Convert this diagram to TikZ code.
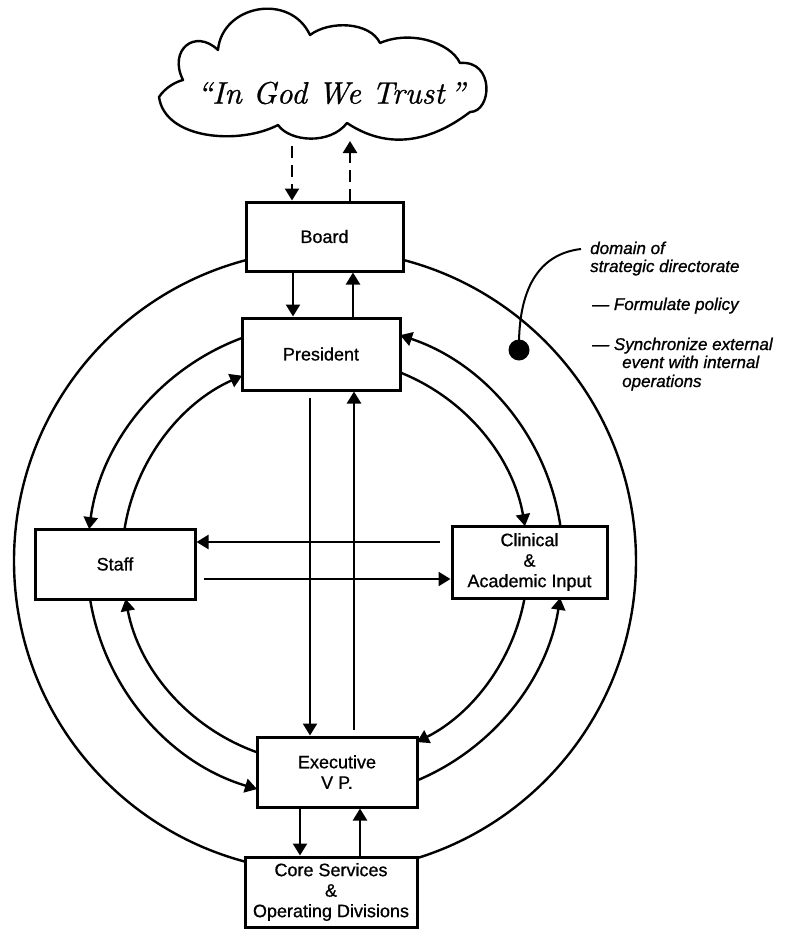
\documentclass[tikz,border=0pt]{standalone}
\usepackage{fontspec}
\newfontfamily\boxfont[FakeBold=0.8]{Liberation Sans}
\newfontfamily\notefont[FakeBold=1]{Liberation Sans}
\newfontfamily\mottofont[FakeBold=0.8]{lmroman10-italic.otf}
\usetikzlibrary{arrows.meta,calc}
\begin{document}
\begin{tikzpicture}[x=1pt,y=-1pt,
  box/.style={draw, line width=3pt, fill=white, align=center,
    font=\boxfont\fontsize{18}{20.5}\selectfont, inner sep=0pt},
  ring/.style={line width=2.4pt},
  arr/.style={line width=2.4pt, -{Triangle[length=12pt,width=14pt]}},
  dasharr/.style={arr, dash pattern=on 12pt off 7pt},
  note/.style={font=\notefont\itshape\fontsize{17}{18}\selectfont,
    anchor=base west, inner sep=0pt}]

\useasboundingbox (0,0) rectangle (801,929);

% centre of the concentric rings
\coordinate (ctr) at (325,561);

% outer ring of the strategic directorate
\draw[ring] (ctr) circle[radius=311];

% cloud
\draw[line width=2.4pt, line join=round]
  (159,97) .. controls (165,88) and (175,82) .. (183,80)
  .. controls (168,50) and (195,28) .. (218,50)
  .. controls (222,5) and (290,-8) .. (310,35)
  .. controls (330,20) and (370,22) .. (380,43)
  .. controls (410,30) and (450,42) .. (460,63)
  .. controls (495,60) and (492,112) .. (470,112)
  .. controls (440,135) and (395,155) .. (347,123)
  .. controls (330,145) and (290,142) .. (278,125)
  .. controls (240,145) and (165,140) .. (159,97) -- cycle;
\node[font=\mottofont\fontsize{31}{36}\selectfont, inner sep=0pt] (motto) at (331,93) {“In God We Trust\,”};
\coordinate (cq1) at (292,146);
\coordinate (cq2) at (350,141);

% boxes
\node[box, minimum width=157pt, minimum height=69pt] (board) at (324.5,236.5) {Board};
\node[box, minimum width=158pt, minimum height=72pt] (pres)  at (321,354) {President};
\node[box, minimum width=160pt, minimum height=70pt] (staff) at (115,564) {Staff};
\node[box, minimum width=155pt, minimum height=72pt] (clin)  at (529.5,562) {Clinical\\\&\\Academic Input};
\node[box, minimum width=160pt, minimum height=70pt] (exec)  at (337,772) {Executive\\V P.};
\node[box, minimum width=172pt, minimum height=70pt] (core)  at (331,892) {Core Services\\\&\\Operating Divisions};

% cloud <-> board
\draw[dasharr] (cq1) -- (cq1 |- board.north);
\draw[dasharr] (cq2 |- board.north) -- (cq2);

% vertical links
\draw[arr] (293,0 |- board.south) -- (293,0 |- pres.north);
\draw[arr] (353,0 |- pres.north) -- (353,0 |- board.south);
\draw[arr, shorten <=6pt] (310,0 |- pres.south) -- (310,0 |- exec.north);
\draw[arr, shorten <=6pt] (354,0 |- exec.north) -- (354,0 |- pres.south);
\draw[arr] (300,0 |- exec.south) -- (300,0 |- core.north);
\draw[arr] (360,0 |- core.north) -- (360,0 |- exec.south);

% horizontal links
\draw[arr, shorten <=11pt] (clin.west |- 0,542) -- (staff.east |- 0,542);
\draw[arr, shorten <=7pt] (staff.east |- 0,579) -- (clin.west |- 0,579);

% outer arrow ring (counter-clockwise)
\draw[arr] ($(ctr)+(249.6:238)$) arc[start angle=249.6, end angle=187.7, radius=238];
\draw[arr] ($(ctr)+(170.8:238)$) arc[start angle=170.8, end angle=106.6, radius=238];
\draw[arr] ($(ctr)+(67.3:238)$)  arc[start angle=67.3,  end angle=8.9,   radius=238];
\draw[arr] ($(ctr)+(-8.5:238)$)  arc[start angle=-8.5,  end angle=-71.6, radius=238];

% inner arrow ring (clockwise)
\draw[arr] ($(ctr)+(189.1:203)$) arc[start angle=189.1, end angle=245.9, radius=203];
\draw[arr] ($(ctr)+(-68.3:203)$) arc[start angle=-68.3, end angle=-9.9,  radius=203];
\draw[arr] ($(ctr)+(10.5:203)$)  arc[start angle=10.5,  end angle=63.1,  radius=203];
\draw[arr] ($(ctr)+(109.6:203)$) arc[start angle=109.6, end angle=169.2, radius=203];

% annotation
\node[circle, fill, inner sep=0pt, minimum size=21pt] (dot) at (519,350) {};
\coordinate (lead) at (581,249);
\draw[line width=2pt] (dot.center) .. controls (518,290) and (538,254) .. (lead);
\node[note] (n1) at (590,254) {domain of};
\node[note] (n2) at (590,272) {strategic directorate};
\node[note] (n3) at (592,310) {— Formulate policy};
\node[note] (n4) at (592,350) {— Synchronize external};
\node[note] (n5) at (622,368) {event with internal};
\node[note] (n6) at (622,387) {operations};
\end{tikzpicture}
\end{document}
